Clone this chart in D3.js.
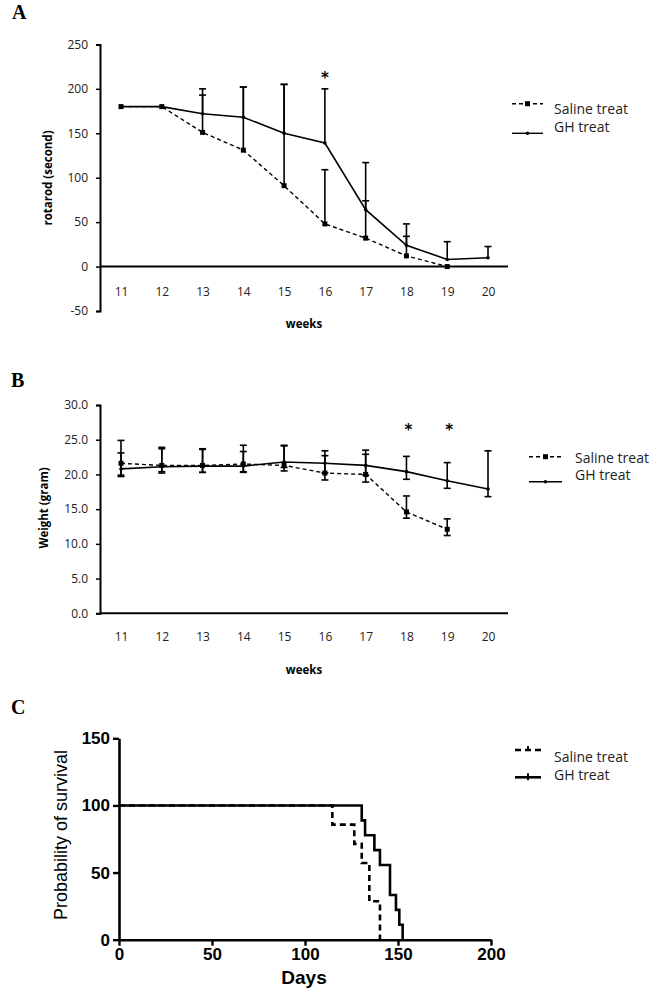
<!DOCTYPE html>
<html><head><meta charset="utf-8">
<script src="https://cdn.jsdelivr.net/npm/d3@7"></script>
<style>body{margin:0;background:#fff}svg{display:block}</style>
</head><body>
<script>
// ---------- DATA ----------
const weeks = [11,12,13,14,15,16,17,18,19,20];
const rotarodTicks = [-50,0,50,100,150,200,250];
const rotarodSaline = [180,180,151,131,91,48,32,12,0,null];
const rotarodGH     = [180,180,172,168,150,139,64,24,8,10];
const rotarodSalineHi = [null,null,193,202,205,109,74,34,null,null];
const rotarodGHHi     = [null,null,200,202,205,200,117,48,28,22.5];

const weightTicks = [0,5,10,15,20,25,30];
const weightSaline   = [21.6,21.3,21.3,21.5,21.3,20.2,20.0,14.6,12.1,null];
const weightSalineHi = [24.9,23.9,23.7,24.2,24.1,22.7,22.9,16.9,13.6,null];
const weightSalineLo = [19.7,20.4,20.3,20.3,20.5,19.2,18.9,13.7,11.2,null];
const weightGH   = [20.8,21.1,21.2,21.2,21.8,21.6,21.3,20.4,19.1,17.9];
const weightGHHi = [23.1,23.7,23.6,23.3,24.2,23.4,23.5,22.6,21.7,23.4];
const weightGHLo = [19.9,20.2,20.3,20.4,21.0,20.2,19.9,19.3,18.0,16.8];
const rotarodStars = [16];
const weightStars = [18,19];

const survTicksX = [0,50,100,150,200];
const survTicksY = [0,50,100,150];
const salineDays = [0,114.7,126.5,130.5,134.6,140.3];
const salineSurv = [100,85.7,71.4,57.1,28.6,0];
const ghDays = [0,130.5,132.3,137.3,140.3,145.7,148.9,150.7,152.5];
const ghSurv = [100,88.9,77.8,66.7,55.6,33.3,22.2,11.1,0];

const seriesNames = ["Saline treat","GH treat"];

// ---------- SVG ----------
const svg = d3.select("body").append("svg").attr("width",658).attr("height",992);
const tickFont = "'Open Sans', sans-serif";

function panelLabel(t,x,y){
  svg.append("text").attr("x",x).attr("y",y).text(t)
    .attr("font-family","'Liberation Serif', 'Times New Roman', serif")
    .attr("font-weight","bold").attr("font-size",20).attr("fill","#000");
}
panelLabel("A",12,19);
panelLabel("B",11,387);
panelLabel("C",11,714);

const xWeeks = d3.scalePoint().domain(weeks).range([121,488]);

function linePanel(cfg){
  const g = svg.append("g");
  const y = d3.scaleLinear().domain(cfg.yDomain).range(cfg.yRange);
  const ya = g.append("g").attr("transform","translate(100,0)")
    .call(d3.axisLeft(y).tickValues(cfg.yTicks).tickSize(4).tickPadding(8).tickFormat(cfg.fmt));
  ya.select(".domain").attr("stroke","#000").attr("stroke-width",2);
  ya.selectAll(".tick line").attr("stroke","#000").attr("stroke-width",1.5);
  ya.selectAll("text").attr("font-family",tickFont).attr("font-size",12).attr("fill","#222");
  const xa = g.append("g").attr("transform",`translate(0,${y(0)})`)
    .call(d3.axisBottom(xWeeks).tickSize(0).tickPadding(cfg.xPad));
  xa.select(".domain").attr("d",`M100,0H508`).attr("stroke","#000").attr("stroke-width",2);
  xa.selectAll("text").attr("font-family",tickFont).attr("font-size",12).attr("fill","#222");
  g.append("text").attr("x",304).attr("y",cfg.xTitleY).attr("text-anchor","middle")
    .attr("font-family",tickFont).attr("font-weight","bold").attr("font-size",11.5).text("weeks");
  g.append("text").attr("transform",`translate(${cfg.yTitleX},${cfg.yTitleY}) rotate(-90)`)
    .attr("text-anchor","middle").attr("dominant-baseline","middle")
    .attr("font-family",tickFont).attr("font-weight","bold").attr("font-size",11.5).text(cfg.yTitle);

  const ser = [
    {v:cfg.saline, hi:cfg.salineHi, lo:cfg.salineLo, dash:"4,3"},
    {v:cfg.gh, hi:cfg.ghHi, lo:cfg.ghLo, dash:null}
  ];
  ser.forEach(s=>{
    weeks.forEach((w,i)=>{
      if(s.v[i]==null) return;
      const x = xWeeks(w);
      [s.hi ? s.hi[i] : null, s.lo ? s.lo[i] : null].forEach(e=>{
        if(e==null) return;
        g.append("line").attr("x1",x).attr("x2",x).attr("y1",y(s.v[i])).attr("y2",y(e))
          .attr("stroke","#000").attr("stroke-width",1.6);
        g.append("line").attr("x1",x-3.5).attr("x2",x+3.5).attr("y1",y(e)).attr("y2",y(e))
          .attr("stroke","#000").attr("stroke-width",1.6);
      });
    });
  });
  ser.forEach((s,si)=>{
    const line = d3.line().defined(d=>d.v!=null).x(d=>xWeeks(d.w)).y(d=>y(d.v));
    const data = weeks.map((w,i)=>({w,v:s.v[i]}));
    g.append("path").datum(data).attr("d",line).attr("fill","none")
      .attr("stroke","#000").attr("stroke-width",si==0?1.4:1.6)
      .attr("stroke-dasharray",s.dash);
    data.filter(d=>d.v!=null).forEach(d=>{
      if(si==0) g.append("rect").attr("x",xWeeks(d.w)-2.5).attr("y",y(d.v)-2.5)
        .attr("width",5).attr("height",5).attr("fill","#000");
      else g.append("circle").attr("cx",xWeeks(d.w)).attr("cy",y(d.v)).attr("r",1.8).attr("fill","#000");
    });
  });
  cfg.stars.forEach(w=>{
    g.append("text").attr("x",xWeeks(w)+(cfg.starDx||0)).attr("y",cfg.starY).attr("text-anchor","middle")
      .attr("font-family","'DejaVu Sans', sans-serif").attr("font-weight","bold").attr("font-size",15).text("*");
  });
  const L = cfg.legend;
  [0,1].forEach(i=>{
    const ly = L.lineY[i];
    g.append("line").attr("x1",L.x1).attr("x2",L.x2).attr("y1",ly).attr("y2",ly)
      .attr("stroke","#000").attr("stroke-width",1.4).attr("stroke-dasharray",i==0?"4,3":null);
    const mx=(L.x1+L.x2)/2;
    if(i==0) g.append("rect").attr("x",mx-2.5).attr("y",ly-2.5).attr("width",5).attr("height",5).attr("fill","#000");
    else g.append("circle").attr("cx",mx).attr("cy",ly).attr("r",1.8).attr("fill","#000");
    g.append("text").attr("x",L.tx).attr("y",L.textY[i]).attr("dominant-baseline","middle")
      .attr("font-family",tickFont).attr("font-size",14).attr("fill","#222").text(seriesNames[i]);
  });
}

linePanel({
  yDomain:[-50,250], yRange:[311,44.4], yTicks:rotarodTicks, fmt:d=>String(d),
  xPad:21, xTitleY:328, yTitleX:49, yTitleY:178, yTitle:"rotarod (second)",
  saline:rotarodSaline, salineHi:rotarodSalineHi, salineLo:null,
  gh:rotarodGH, ghHi:rotarodGHHi, ghLo:null,
  stars:rotarodStars, starY:83,
  legend:{x1:512,x2:543,tx:554,lineY:[103.7,133.3],textY:[110.7,128.3]}
});

linePanel({
  yDomain:[0,30], yRange:[613.3,405], yTicks:weightTicks, fmt:d=>d.toFixed(1),
  xPad:19, xTitleY:674, yTitleX:45, yTitleY:508, yTitle:"Weight (gram)",
  saline:weightSaline, salineHi:weightSalineHi, salineLo:weightSalineLo,
  gh:weightGH, ghHi:weightGHHi, ghLo:weightGHLo,
  stars:weightStars, starY:435, starDx:2,
  legend:{x1:529,x2:562,tx:575,lineY:[456.7,481.7],textY:[459,476.7]}
});

// ---------- Panel C ----------
(function(){
  const g = svg.append("g");
  const x = d3.scaleLinear().domain([0,200]).range([119,491]);
  const y = d3.scaleLinear().domain([0,150]).range([939.7,738.3]);
  const arial = "'Liberation Sans', Arial, sans-serif";
  const ya = g.append("g").attr("transform","translate(119,0)")
    .call(d3.axisLeft(y).tickValues(survTicksY).tickSize(6).tickSizeOuter(0).tickPadding(3));
  const xa = g.append("g").attr("transform",`translate(0,${y(0)})`)
    .call(d3.axisBottom(x).tickValues(survTicksX).tickSize(6).tickSizeOuter(0).tickPadding(2));
  [ya,xa].forEach(a=>{
    a.select(".domain").attr("stroke","#000").attr("stroke-width",2.6);
    a.selectAll(".tick line").attr("stroke","#000").attr("stroke-width",2.4);
    a.selectAll("text").attr("font-family",arial).attr("font-weight","bold").attr("font-size",17).attr("fill","#000");
  });
  g.append("text").attr("x",304).attr("y",984).attr("text-anchor","middle")
    .attr("font-family",arial).attr("font-weight","bold").attr("font-size",19).text("Days");
  g.append("text").attr("transform",`translate(62,835) rotate(-90)`).attr("text-anchor","middle")
    .attr("dominant-baseline","middle").attr("font-family",arial).attr("font-size",18).text("Probability of survival");

  const line = d3.line().curve(d3.curveStepAfter).x(d=>x(d[0])).y(d=>y(d[1]));
  g.append("path").datum(ghDays.map((d,i)=>[d,ghSurv[i]])).attr("d",line)
    .attr("fill","none").attr("stroke","#000").attr("stroke-width",2.6);
  g.append("path").datum(salineDays.map((d,i)=>[d,salineSurv[i]])).attr("d",line)
    .attr("fill","none").attr("stroke","#000").attr("stroke-width",2.6).attr("stroke-dasharray","6,4");

  const lys=[750,777.3], tys=[758.3,776.7];
  [0,1].forEach(i=>{
    g.append("line").attr("x1",515).attr("x2",541).attr("y1",lys[i]).attr("y2",lys[i])
      .attr("stroke","#000").attr("stroke-width",2.6).attr("stroke-dasharray",i==0?"6,4":null);
    g.append("line").attr("x1",528).attr("x2",528).attr("y1",lys[i]-4).attr("y2",lys[i]+ (i==0?0:3))
      .attr("stroke","#000").attr("stroke-width",2);
    g.append("text").attr("x",554).attr("y",tys[i]).attr("dominant-baseline","middle")
      .attr("font-family",tickFont).attr("font-size",14).attr("fill","#222").text(seriesNames[i]);
  });
})();
</script>
</body></html>
